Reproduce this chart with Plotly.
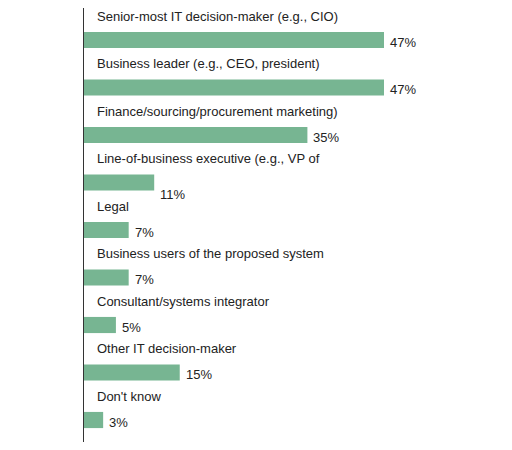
import plotly.graph_objects as go

categories = ["Senior-most IT decision-maker (e.g., CIO)", "Business leader (e.g., CEO, president)",
              "Finance/sourcing/procurement marketing)", "Line-of-business executive (e.g., VP of",
              "Legal", "Business users of the proposed system", "Consultant/systems integrator",
              "Other IT decision-maker", "Don't know"]
values = [47, 47, 35, 11, 7, 7, 5, 15, 3]

pos = list(range(len(categories)))
fig = go.Figure(go.Bar(x=values, y=pos, orientation="h", width=0.34,
                       marker=dict(color="#77b592", line=dict(width=0)), hoverinfo="skip"))
ann = []
for i, (c, v) in enumerate(zip(categories, values)):
    ann.append(dict(x=0, y=i, text=c, xref="x", yref="y", showarrow=False, xanchor="left",
                    yanchor="middle", xshift=11, yshift=24, font=dict(size=13, color="#222")))
    ann.append(dict(x=v, y=i, text=f"{v}%", xref="x", yref="y", showarrow=False, xanchor="left",
                    yanchor="middle", xshift=4, yshift=-2 if v != 11 else -12,
                    font=dict(size=13, color="#222")))
fig.update_layout(width=496, height=434, margin=dict(l=76, r=0, t=0, b=0),
                  plot_bgcolor="white", paper_bgcolor="white", showlegend=False,
                  font=dict(family="Liberation Sans, Arial"), annotations=ann,
                  xaxis=dict(range=[0, 65.8], visible=False),
                  yaxis=dict(range=[8.463, -0.674], showticklabels=False, showgrid=False,
                             zeroline=False, showline=True, linecolor="#333", linewidth=1))
fig.write_html("out.html")
